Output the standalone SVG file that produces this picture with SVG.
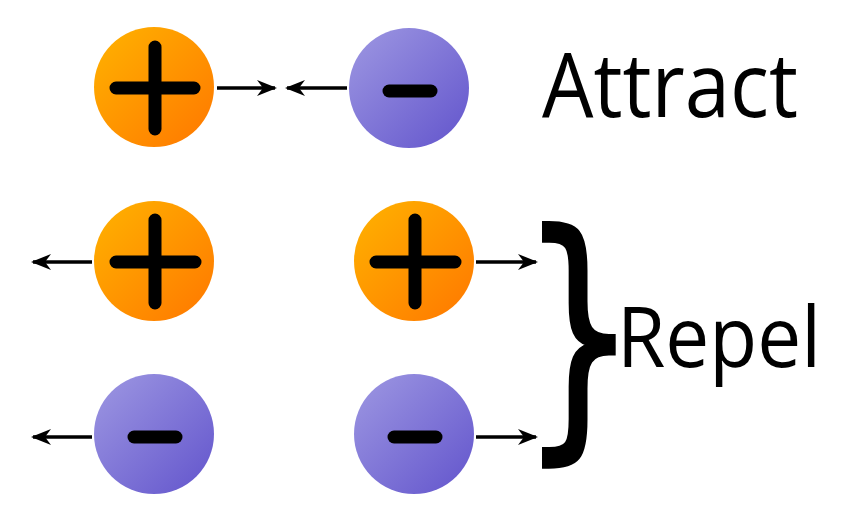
<svg xmlns="http://www.w3.org/2000/svg" width="854" height="516" viewBox="0 0 854 516">
<defs>
<linearGradient id="gO" x1="0" y1="0" x2="1" y2="1">
<stop offset="0" stop-color="#FFB300"/>
<stop offset="1" stop-color="#FF7700"/>
</linearGradient>
<linearGradient id="gP" x1="0" y1="0" x2="1" y2="1">
<stop offset="0" stop-color="#9E98E2"/>
<stop offset="1" stop-color="#6254CC"/>
</linearGradient>
<marker id="ah" viewBox="0 0 20 16" refX="18" refY="8" markerWidth="20" markerHeight="16" markerUnits="userSpaceOnUse" orient="auto">
<path d="M0,0 L20,8 L0,16 L6,8 Z" fill="#000"/>
</marker>
<style>
.pos{fill:url(#gO)}
.neg{fill:url(#gP)}
.sym{stroke:#000;stroke-width:13;stroke-linecap:round;fill:none}
.arr{stroke:#000;stroke-width:3.5;fill:none;marker-end:url(#ah)}
.lbl{font-family:"Open Sans","Liberation Sans",sans-serif;fill:#000}
.br{font-family:"DejaVu Sans",sans-serif;fill:#000;stroke:#000;stroke-width:3}
</style>
</defs>
<rect width="854" height="516" fill="#fff"/>
<g id="p1"><circle class="pos" cx="154" cy="87" r="60"/><path class="sym" d="M116,88 H194 M155,47 V129"/></g>
<g id="n1"><circle class="neg" cx="409" cy="88" r="60"/><path class="sym" d="M389,91 H431"/></g>
<g id="p2"><circle class="pos" cx="154" cy="261" r="60"/><path class="sym" d="M116,262 H195 M155,220 V303"/></g>
<g id="p3"><circle class="pos" cx="414" cy="261" r="60"/><path class="sym" d="M376,262 H455 M415,220 V303"/></g>
<g id="n2"><circle class="neg" cx="154" cy="434" r="60"/><path class="sym" d="M134,437 H176"/></g>
<g id="n3"><circle class="neg" cx="414" cy="434" r="60"/><path class="sym" d="M394,437 H436"/></g>
<g id="connectors">
<path class="arr" d="M217,88 H275"/>
<path class="arr" d="M347,88 H287"/>
<path class="arr" d="M92,262 H33"/>
<path class="arr" d="M476,262 H536"/>
<path class="arr" d="M92,437 H33"/>
<path class="arr" d="M476,437 H536"/>
</g>
<g id="brace"><text class="br" x="0" y="0" font-size="250" transform="translate(520,424) scale(0.74,1.06)">}</text></g>
<g id="attract"><text class="lbl" x="542" y="117" font-size="90" textLength="256" lengthAdjust="spacingAndGlyphs">Attract</text></g>
<g id="repel"><text class="lbl" x="617" y="367" font-size="84" textLength="204" lengthAdjust="spacingAndGlyphs">Repel</text></g>
</svg>
